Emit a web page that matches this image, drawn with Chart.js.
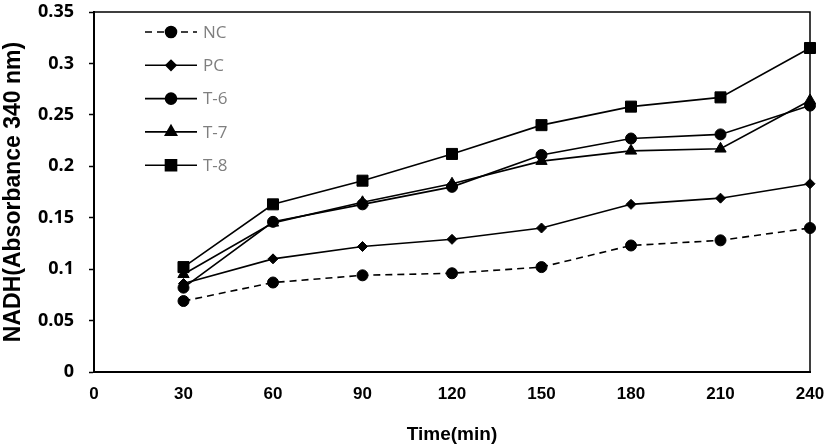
<!DOCTYPE html>
<html>
<head>
<meta charset="utf-8">
<script src="https://cdn.jsdelivr.net/npm/chart.js@4/dist/chart.umd.min.js"></script>
<style>
  body { margin: 0; background: #fff; }
  #wrap { width: 827px; height: 446px; position: relative; }
</style>
</head>
<body>
<div id="wrap"><canvas id="nadhChart"></canvas></div>
<script>
// values
const times = [30, 60, 90, 120, 150, 180, 210, 240];
const xTicks = [0, 30, 60, 90, 120, 150, 180, 210, 240];
const yTicks = [0, 0.05, 0.1, 0.15, 0.2, 0.25, 0.3, 0.35];
const seriesNames = ['NC', 'PC', 'T-6', 'T-7', 'T-8'];
const ncValues = [0.069, 0.087, 0.094, 0.096, 0.102, 0.123, 0.128, 0.140];
const pcValues = [0.086, 0.110, 0.122, 0.129, 0.140, 0.163, 0.169, 0.183];
const t6Values = [0.082, 0.146, 0.163, 0.180, 0.211, 0.227, 0.231, 0.259];
const t7Values = [0.095, 0.145, 0.165, 0.183, 0.205, 0.215, 0.217, 0.264];
const t8Values = [0.102, 0.163, 0.186, 0.212, 0.240, 0.258, 0.267, 0.315];

const pointStyles = ['circle', 'rectRot', 'circle', 'triangle', 'rect'];
const pointSizes = [5.5, 5, 5.5, 6.5, 7.8];

function toPoints(values) {
    return values.map((v, i) => ({ x: times[i], y: v }));
}

function makeDataset(i, values) {
    return {
        label: seriesNames[i],
        data: toPoints(values),
        borderColor: '#000',
        backgroundColor: '#000',
        borderWidth: 1.6,
        borderDash: i === 0 ? [7, 5] : [],
        pointStyle: pointStyles[i],
        pointRadius: pointSizes[i],
        pointBackgroundColor: '#000',
        pointBorderColor: '#000',
        pointBorderWidth: 1,
        tension: 0,
        clip: false
    };
}

// top and right edge of the plot box
const framePlugin = {
    id: 'frame',
    beforeDatasetsDraw(chart) {
        const { ctx, chartArea } = chart;
        ctx.save();
        ctx.strokeStyle = '#000';
        ctx.lineWidth = 1.5;
        ctx.beginPath();
        ctx.moveTo(chartArea.left, chartArea.top);
        ctx.lineTo(chartArea.right, chartArea.top);
        ctx.lineTo(chartArea.right, chartArea.bottom);
        ctx.stroke();
        ctx.restore();
    }
};

// legend with line + marker samples, like the spreadsheet one
const lineLegend = {
    id: 'lineLegend',
    afterDraw(chart) {
        const ctx = chart.ctx;
        ctx.save();
        chart.data.datasets.forEach((ds, i) => {
            const y = 32 + i * 33.3;
            ctx.strokeStyle = '#000';
            ctx.fillStyle = '#000';
            ctx.lineWidth = 1.6;
            ctx.setLineDash(ds.borderDash);
            ctx.beginPath();
            ctx.moveTo(145, y);
            ctx.lineTo(197, y);
            ctx.stroke();
            ctx.setLineDash([]);
            Chart.helpers.drawPoint(ctx, {
                pointStyle: ds.pointStyle,
                radius: ds.pointRadius,
                rotation: 0,
                borderWidth: 1
            }, 171, y);
            ctx.fillStyle = '#7f7f7f';
            ctx.font = '17px "Open Sans"';
            ctx.textAlign = 'left';
            ctx.textBaseline = 'middle';
            ctx.fillText(ds.label, 203, y + 1);
        });
        ctx.restore();
    }
};

function noScalePadding(scale) {
    scale.paddingTop = 0;
    scale.paddingBottom = 0;
    scale.paddingLeft = 0;
    scale.paddingRight = 0;
}

function buildChart() {
    const ctx = document.getElementById('nadhChart').getContext('2d');
    return new Chart(ctx, {
        type: 'line',
        data: {
            datasets: [
                makeDataset(0, ncValues),
                makeDataset(1, pcValues),
                makeDataset(2, t6Values),
                makeDataset(3, t7Values),
                makeDataset(4, t8Values)
            ]
        },
        options: {
            responsive: true,
            maintainAspectRatio: false,
            animation: false,
            layout: { padding: { top: 12, right: 17, bottom: 0, left: 0 } },
            plugins: {
                legend: { display: false },
                tooltip: { enabled: false }
            },
            scales: {
                x: {
                    type: 'linear',
                    min: 0,
                    max: 240,
                    afterBuildTicks: (scale) => { scale.ticks = xTicks.map(v => ({ value: v })); },
                    afterFit: (scale) => { scale.height = 74; noScalePadding(scale); },
                    grid: { drawOnChartArea: false, drawTicks: false },
                    border: { color: '#000', width: 2 },
                    ticks: {
                        padding: 12,
                        color: '#000',
                        maxRotation: 0,
                        font: { family: '"Liberation Sans", Arial', size: 17, weight: 'bold' }
                    },
                    title: {
                        display: true,
                        text: 'Time(min)',
                        color: '#000',
                        padding: { top: 2, bottom: 0 },
                        font: { family: '"Liberation Sans", Arial', size: 19, weight: 'bold' }
                    }
                },
                y: {
                    min: 0,
                    max: 0.35,
                    afterBuildTicks: (scale) => { scale.ticks = yTicks.map(v => ({ value: v })); },
                    afterFit: (scale) => { scale.width = 94; noScalePadding(scale); },
                    grid: { drawOnChartArea: false, tickLength: 5, color: '#000', tickWidth: 1.5 },
                    border: { color: '#000', width: 2 },
                    ticks: {
                        padding: 15,
                        color: '#000',
                        callback: (v) => String(Math.round(v * 100) / 100),
                        font: { family: '"Open Sans"', size: 18, weight: 'bold' }
                    },
                    title: {
                        display: true,
                        text: 'NADH(Absorbance 340 nm)',
                        color: '#000',
                        padding: { top: 0, bottom: 0 },
                        font: { family: '"Liberation Sans", Arial', size: 23, weight: 'bold' }
                    }
                }
            }
        },
        plugins: [framePlugin, lineLegend]
    });
}

Promise.all([
    document.fonts.load('bold 18px "Open Sans"'),
    document.fonts.load('17px "Open Sans"'),
    document.fonts.load('bold 17px "Liberation Sans"')
]).catch(() => {}).then(buildChart);
</script>
</body>
</html>
